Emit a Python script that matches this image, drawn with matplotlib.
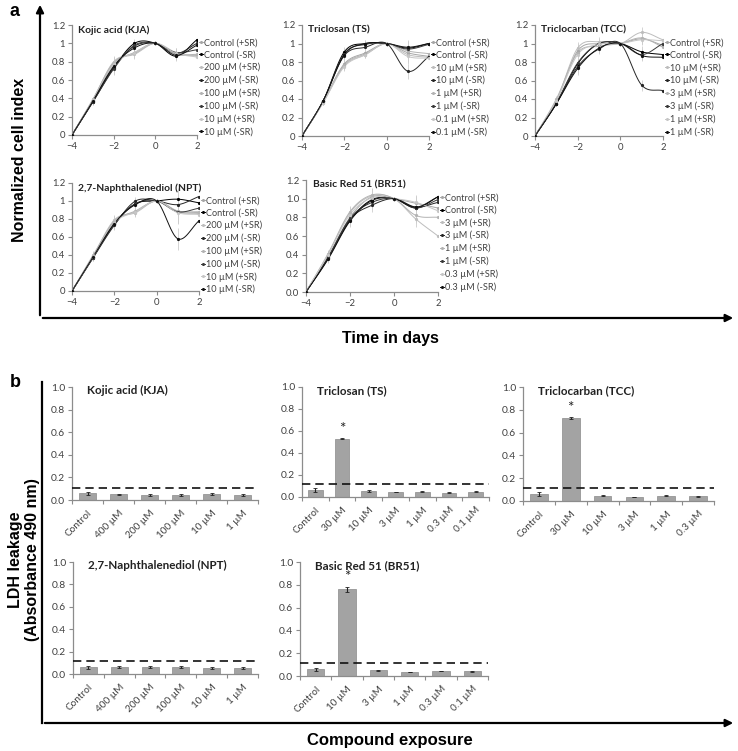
import numpy as np
import matplotlib
matplotlib.use("Agg")
import matplotlib.pyplot as plt
from matplotlib.patches import FancyArrowPatch
from matplotlib.ticker import FixedLocator, FormatStrFormatter

W, H = 738, 751
plt.rcParams['font.family'] = ['Lato', 'DejaVu Sans']

# ---------------- panel a data (normalized cell index) ----------------
days = [-4, -3, -2, -1, 0, 1, 2]

kja_labels = ['Control (+SR)', 'Control (-SR)', '200 µM (+SR)', '200 µM (-SR)',
              '100 µM (+SR)', '100 µM (-SR)', '10 µM (+SR)', '10 µM (-SR)']
kja_lines = [
    [0, 0.38, 0.78, 0.90, 1, 0.88, 0.87],
    [0, 0.36, 0.73, 1.00, 1, 0.86, 1.04],
    [0, 0.38, 0.80, 0.88, 1, 0.90, 0.86],
    [0, 0.37, 0.74, 0.97, 1, 0.89, 1.00],
    [0, 0.39, 0.79, 0.89, 1, 0.88, 0.88],
    [0, 0.36, 0.72, 0.98, 1, 0.90, 0.93],
    [0, 0.38, 0.77, 0.90, 1, 0.89, 0.85],
    [0, 0.37, 0.75, 0.95, 1, 0.87, 0.98],
]
kja_err = [0, 0.03, 0.06, 0.05, 0, 0.05, 0.04]

ts_labels = ['Control (+SR)', 'Control (-SR)', '10 µM (+SR)', '10 µM (-SR)',
             '1 µM (+SR)', '1 µM (-SR)', '0.1 µM (+SR)', '0.1 µM (-SR)']
ts_lines = [
    [0, 0.37, 0.78, 0.90, 1, 0.90, 0.86],
    [0, 0.38, 0.91, 1.00, 1, 0.95, 1.00],
    [0, 0.36, 0.76, 0.88, 1, 0.88, 0.85],
    [0, 0.38, 0.87, 0.96, 1, 0.70, 0.86],
    [0, 0.37, 0.77, 0.89, 1, 0.92, 0.89],
    [0, 0.38, 0.89, 0.99, 1, 0.94, 0.99],
    [0, 0.36, 0.75, 0.88, 1, 0.86, 0.84],
    [0, 0.38, 0.88, 1.00, 1, 0.96, 1.00],
]
ts_err = [0, 0.03, 0.05, 0.04, 0, 0.08, 0.05]

tcc_labels = ['Control (+SR)', 'Control (-SR)', '10 µM (+SR)', '10 µM (-SR)',
              '3 µM (+SR)', '3 µM (-SR)', '1 µM (+SR)', '1 µM (-SR)']
tcc_lines = [
    [0, 0.38, 0.92, 1.00, 1, 1.05, 0.98],
    [0, 0.35, 0.78, 1.00, 1, 0.91, 0.88],
    [0, 0.38, 0.95, 1.02, 1, 1.12, 1.04],
    [0, 0.35, 0.75, 0.94, 1, 0.55, 0.49],
    [0, 0.40, 0.90, 0.97, 1, 1.06, 0.96],
    [0, 0.36, 0.79, 1.00, 1, 0.88, 1.00],
    [0, 0.38, 0.88, 0.99, 1, 1.04, 1.03],
    [0, 0.35, 0.73, 0.95, 1, 0.87, 0.85],
]
tcc_err = [0, 0.03, 0.07, 0.05, 0, 0.06, 0.04]

npt_labels = kja_labels
npt_lines = [
    [0, 0.38, 0.78, 0.88, 1, 0.88, 0.87],
    [0, 0.38, 0.75, 0.97, 1, 1.02, 0.98],
    [0, 0.39, 0.79, 0.87, 1, 0.88, 0.86],
    [0, 0.37, 0.73, 1.00, 1, 0.96, 1.05],
    [0, 0.40, 0.77, 0.89, 1, 0.89, 0.88],
    [0, 0.37, 0.74, 0.97, 1, 0.88, 0.92],
    [0, 0.38, 0.76, 0.88, 1, 0.87, 0.85],
    [0, 0.38, 0.75, 0.96, 1, 0.58, 0.78],
]
npt_err = [0, 0.04, 0.05, 0.05, 0, 0.12, 0.08]

br_labels = ['Control (+SR)', 'Control (-SR)', '3 µM (+SR)', '3 µM (-SR)',
             '1 µM (+SR)', '1 µM (-SR)', '0.3 µM (+SR)', '0.3 µM (-SR)']
br_lines = [
    [0, 0.38, 0.80, 1.02, 1, 0.95, 0.90],
    [0, 0.36, 0.77, 0.99, 1, 0.90, 1.02],
    [0, 0.40, 0.85, 1.03, 1, 0.78, 0.60],
    [0, 0.37, 0.78, 0.93, 1, 0.91, 0.96],
    [0, 0.41, 0.86, 1.04, 1, 0.82, 0.80],
    [0, 0.36, 0.79, 0.96, 1, 0.90, 0.99],
    [0, 0.40, 0.83, 1.01, 1, 0.96, 0.87],
    [0, 0.35, 0.76, 0.98, 1, 0.91, 1.02],
]
br_err = [0, 0.04, 0.06, 0.07, 0, 0.08, 0.06]

# ---------------- panel b data (LDH leakage) ----------------
kja_cats = ['Control', '400 µM', '200 µM', '100 µM', '10 µM', '1 µM']
kja_ldh = [0.060, 0.050, 0.042, 0.045, 0.052, 0.044]
kja_ldh_err = [0.015, 0.004, 0.008, 0.007, 0.010, 0.007]
kja_cut = 0.105

ts_cats = ['Control', '30 µM', '10 µM', '3 µM', '1 µM', '0.3 µM', '0.1 µM']
ts_ldh = [0.065, 0.530, 0.055, 0.045, 0.050, 0.040, 0.050]
ts_ldh_err = [0.015, 0.006, 0.005, 0.004, 0.004, 0.005, 0.002]
ts_cut = 0.115
ts_star = [False, True, False, False, False, False, False]

tcc_cats = ['Control', '30 µM', '10 µM', '3 µM', '1 µM', '0.3 µM']
tcc_ldh = [0.060, 0.725, 0.045, 0.035, 0.045, 0.040]
tcc_ldh_err = [0.015, 0.008, 0.005, 0.004, 0.005, 0.004]
tcc_cut = 0.115
tcc_star = [False, True, False, False, False, False]

npt_cats = kja_cats
npt_ldh = [0.060, 0.062, 0.060, 0.060, 0.055, 0.052]
npt_ldh_err = [0.012, 0.012, 0.008, 0.008, 0.006, 0.008]
npt_cut = 0.115

br_cats = ['Control', '10 µM', '3 µM', '1 µM', '0.3 µM', '0.1 µM']
br_ldh = [0.060, 0.760, 0.050, 0.035, 0.045, 0.040]
br_ldh_err = [0.012, 0.025, 0.003, 0.004, 0.003, 0.004]
br_cut = 0.115
br_star = [False, True, False, False, False, False]

TXT = '#404040'
AXC = '#8c8c8c'
PLUS_C = ['#a6a6a6', '#bdbdbd', '#b3b3b3', '#c6c6c6']
MINUS_C = ['#000000', '#262626', '#3a3a3a', '#111111']


def box(l, t, r, b):
    return [l / W, 1 - b / H, (r - l) / W, (b - t) / H]


def smooth(x, y, n=16):
    # catmull-rom style curve like excel's "smoothed line"
    x = np.asarray(x, float)
    y = np.asarray(y, float)
    px = np.concatenate([[2 * x[0] - x[1]], x, [2 * x[-1] - x[-2]]])
    py = np.concatenate([[2 * y[0] - y[1]], y, [2 * y[-1] - y[-2]]])
    xs, ys = [], []
    t = np.linspace(0, 1, n, endpoint=False)
    for i in range(1, len(px) - 2):
        p0, p1, p2, p3 = py[i - 1], py[i], py[i + 1], py[i + 2]
        q0, q1, q2, q3 = px[i - 1], px[i], px[i + 1], px[i + 2]
        for p, out in (((q0, q1, q2, q3), xs), ((p0, p1, p2, p3), ys)):
            a0, a1, a2, a3 = p
            out.extend(0.5 * (2 * a1 + (-a0 + a2) * t + (2 * a0 - 5 * a1 + 4 * a2 - a3) * t ** 2
                              + (-a0 + 3 * a1 - 3 * a2 + a3) * t ** 3))
    xs.append(x[-1])
    ys.append(y[-1])
    return xs, ys


def style_axes(ax, fs):
    for s in ['top', 'right']:
        ax.spines[s].set_visible(False)
    for s in ['left', 'bottom']:
        ax.spines[s].set_color(AXC)
        ax.spines[s].set_linewidth(0.9)
    ax.tick_params(colors=AXC, labelcolor=TXT, labelsize=fs, length=3, width=0.8, pad=2)
    ax.patch.set_alpha(0)


def line_panel(rect, title, labels, lines, err, fmt, leg_y):
    ax = fig.add_axes(box(*rect))
    for i, (lab, vals) in enumerate(zip(labels, lines)):
        c = PLUS_C[i // 2] if i % 2 == 0 else MINUS_C[i // 2]
        ax.errorbar(days, vals, yerr=err, fmt='none', ecolor='#cccccc', elinewidth=0.6, zorder=1)
        sx, sy = smooth(days, vals)
        ax.plot(sx, sy, color=c, lw=0.7, zorder=2)
        ax.plot(days, vals, ls='none', marker='o', ms=1.3, color=c, zorder=3)
        ax.plot([], [], color=c, lw=0.7, marker='o', ms=1.2, label=lab)
    ax.set_xlim(-4, 2)
    ax.set_ylim(0, 1.2)
    ax.set_xticks([-4, -2, 0, 2])
    ax.set_yticks(np.arange(0, 1.21, 0.2))
    ax.yaxis.set_major_formatter(fmt)
    style_axes(ax, 6.8)
    ax.tick_params(axis='x', length=3)
    ax.text(0.05, 1.0, title, transform=ax.transAxes, fontsize=7.4, fontweight='bold',
            color='#222222', va='top', ha='left')
    leg = ax.legend(loc='upper left', bbox_to_anchor=(1.0, leg_y), frameon=False, fontsize=6.6,
                    handlelength=0.4, handletextpad=0.15, labelspacing=0.36, borderpad=0,
                    borderaxespad=0.25)
    for t in leg.get_texts():
        t.set_color(TXT)
    return ax


def bar_panel(rect, title, cats, vals, errs, cut, stars=None):
    ax = fig.add_axes(box(*rect))
    xs = np.arange(len(cats))
    ax.bar(xs, vals, width=0.55, color='#a3a3a3', edgecolor='#8a8a8a', linewidth=0.5, zorder=2)
    ax.errorbar(xs, vals, yerr=errs, fmt='none', ecolor='#222222', elinewidth=0.8,
                capsize=1.2, capthick=0.6, zorder=3)
    ax.axhline(cut, color='#111111', lw=1.2, dashes=(5, 3), zorder=4)
    if stars:
        for x, v, e, s in zip(xs, vals, errs, stars):
            if s:
                ax.text(x, v + e + 0.02, '*', ha='center', va='bottom', fontsize=11, color='#222222')
    ax.set_xlim(-0.5, len(cats) - 0.5)
    ax.set_ylim(0, 1.0)
    ax.set_yticks(np.arange(0, 1.01, 0.2))
    ax.yaxis.set_major_formatter(FormatStrFormatter('%.1f'))
    ax.set_xticks(xs)
    ax.set_xticklabels(cats, rotation=45, ha='right', rotation_mode='anchor')
    ax.xaxis.set_minor_locator(FixedLocator(np.arange(-0.5, len(cats), 1.0)))
    style_axes(ax, 7.4)
    ax.tick_params(axis='x', which='major', length=0, pad=6, labelsize=7.2)
    ax.tick_params(axis='x', which='minor', length=3, color=AXC, width=0.8)
    ax.text(0.08, 1.02, title, transform=ax.transAxes, fontsize=8.4, fontweight='bold',
            color='#222222', va='top', ha='left')
    return ax


fig = plt.figure(figsize=(W / 100, H / 100), dpi=100)

gen = FormatStrFormatter('%g')
one = FormatStrFormatter('%.1f')
line_panel((72, 25, 197, 135), 'Kojic acid (KJA)', kja_labels, kja_lines, kja_err, gen, 0.9)
line_panel((302, 25, 429, 136), 'Triclosan (TS)', ts_labels, ts_lines, ts_err, gen, 0.9)
line_panel((535, 25, 663, 136), 'Triclocarban (TCC)', tcc_labels, tcc_lines, tcc_err, gen, 0.9)
line_panel((72, 183, 199, 291), '2,7-Naphthalenediol (NPT)', npt_labels, npt_lines, npt_err, gen, 0.9)
line_panel((306, 180, 438, 292), 'Basic Red 51 (BR51)', br_labels, br_lines, br_err, one, 0.9)

bar_panel((72, 387, 258, 500), 'Kojic acid (KJA)', kja_cats, kja_ldh, kja_ldh_err, kja_cut)
bar_panel((302, 387, 489, 497), 'Triclosan (TS)', ts_cats, ts_ldh, ts_ldh_err, ts_cut, ts_star)
bar_panel((523, 387, 714, 501), 'Triclocarban (TCC)', tcc_cats, tcc_ldh, tcc_ldh_err, tcc_cut, tcc_star)
bar_panel((73, 562, 258, 674), '2,7-Naphthalenediol (NPT)', npt_cats, npt_ldh, npt_ldh_err, npt_cut)
bar_panel((300, 562, 488, 676), 'Basic Red 51 (BR51)', br_cats, br_ldh, br_ldh_err, br_cut, br_star)


# outer arrows and big labels
def arrow(x0, y0, x1, y1):
    fig.add_artist(FancyArrowPatch((x0 / W, 1 - y0 / H), (x1 / W, 1 - y1 / H),
                                   transform=fig.transFigure, arrowstyle='-|>',
                                   mutation_scale=11, lw=1.6, color='black'))


arrow(40, 318, 40, 2)
arrow(40, 318, 736, 318)
fig.add_artist(plt.Line2D([42 / W, 42 / W], [1 - 723 / H, 1 - 382 / H],
                          transform=fig.transFigure, lw=1.6, color='black'))
arrow(42, 723, 736, 723)

big = dict(family=['Liberation Sans', 'DejaVu Sans'], fontweight='bold', color='black')
fig.text(10 / W, 1 - 12 / H, 'a', fontsize=13, va='center', ha='left', **big)
fig.text(10 / W, 1 - 382 / H, 'b', fontsize=13, va='center', ha='left', **big)
fig.text(20 / W, 1 - 160 / H, 'Normalized cell index', rotation=90, fontsize=11.5,
         va='center', ha='center', **big)
fig.text(390 / W, 1 - 339 / H, 'Time in days', fontsize=11.5, va='center', ha='center', **big)
fig.text(24 / W, 1 - 560 / H, 'LDH leakage\n(Absorbance 490 nm)', rotation=90, fontsize=11.5,
         va='center', ha='center', multialignment='center', linespacing=1.1, **big)
fig.text(390 / W, 1 - 740 / H, 'Compound exposure', fontsize=12, va='center', ha='center', **big)

fig.savefig('out.png', dpi=100)
